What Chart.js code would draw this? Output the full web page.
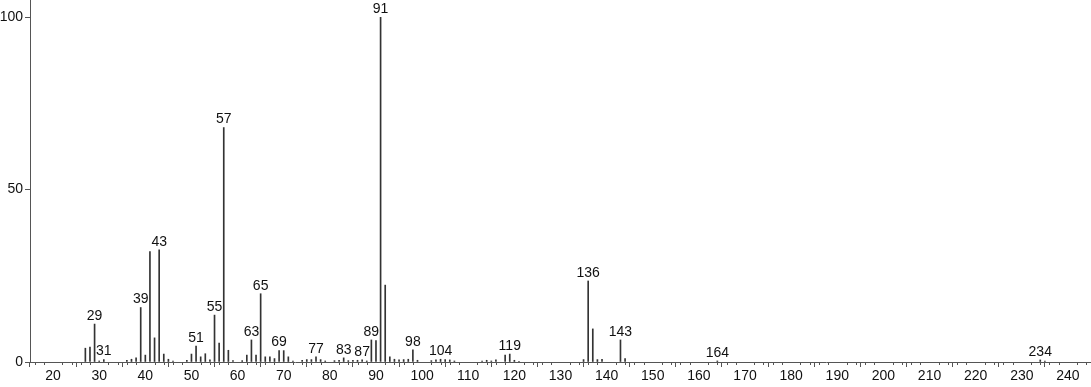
<!DOCTYPE html>
<html lang="en">
<head>
  <meta charset="UTF-8" />
  <title>Mass spectrum</title>
  <script src="https://cdn.jsdelivr.net/npm/chart.js@4"></script>
  <style>
    html, body { margin: 0; padding: 0; background: #fff; }
    .grafico { width: 1091px; height: 387px; }
  </style>
</head>
<body>
  <div class="grafico">
    <canvas id="espectro"></canvas>
  </div>

  <script>
    // m/z values and relative intensities
    const mz = [27, 28, 29, 30, 31, 36, 37, 38, 39, 40, 41, 42, 43, 44, 45, 46, 49, 50, 51, 52,
      53, 54, 55, 56, 57, 58, 59, 61, 62, 63, 64, 65, 66, 67, 68, 69, 70, 71, 72, 74,
      75, 76, 77, 78, 79, 81, 82, 83, 84, 85, 86, 87, 88, 89, 90, 91, 92, 93, 94, 95,
      96, 97, 98, 99, 102, 103, 104, 105, 106, 107, 113, 114, 115, 116, 118, 119, 120, 121, 135, 136,
      137, 138, 139, 143, 144, 164, 234, 235];
    const intensity = [4.0, 4.3, 11.0, 0.3, 0.7, 0.5, 0.8, 1.2, 15.8, 2.0, 32.0, 7.0, 32.5, 2.3, 0.8, 0.3, 0.5, 2.3, 4.6, 1.5,
      2.4, 0.6, 13.6, 5.5, 68.0, 3.4, 0.4, 0.4, 2.0, 6.4, 2.0, 19.8, 1.5, 1.5, 1.0, 3.3, 3.3, 1.5, 0.3, 0.5,
      0.7, 0.7, 1.5, 0.7, 0.3, 0.4, 0.5, 1.2, 0.4, 0.5, 0.5, 0.6, 0.3, 6.4, 6.2, 100, 22.3, 1.5, 0.8, 0.6,
      0.7, 0.8, 3.5, 0.5, 0.4, 0.6, 0.8, 0.7, 0.6, 0.3, 0.3, 0.5, 0.3, 0.6, 2.0, 2.3, 0.5, 0.2, 0.7, 23.5,
      9.6, 0.7, 0.8, 6.4, 1.0, 0.3, 0.6, 0.3];
    // peaks that carry a label
    const labelled = [29, 31, 39, 43, 51, 55, 57, 63, 65, 69, 77, 83, 87, 89, 91, 98, 104, 119, 136, 143, 164, 234];
    const xTicks = [20, 30, 40, 50, 60, 70, 80, 90, 100, 110, 120, 130, 140, 150, 160, 170, 180, 190, 200, 210, 220, 230, 240];
    const yTicks = [0, 50, 100];

    const corEixo = '#555';
    const corTexto = '#111';
    const familia = '"Liberation Sans", Arial, sans-serif';

    // minor ticks + peak labels
    const extras = {
      id: 'extras',
      afterDraw(chart) {
        const c = chart.ctx;
        const x = chart.scales.x, y = chart.scales.y;
        const base = y.getPixelForValue(0);
        c.save();
        c.strokeStyle = corEixo;
        c.lineWidth = 1;
        c.beginPath();
        for (let v = 16; v <= 244; v += 2) {
          if (v % 10 === 0) continue;
          const px = Math.round(x.getPixelForValue(v)) + 0.5;
          c.moveTo(px, base);
          c.lineTo(px, base + 3);
        }
        c.stroke();

        c.fillStyle = corTexto;
        c.font = '14px ' + familia;
        c.textAlign = 'center';
        c.textBaseline = 'bottom';
        labelled.forEach(m => {
          const i = mz.indexOf(m);
          const px = x.getPixelForValue(m);
          const py = y.getPixelForValue(intensity[i]);
          c.fillText(String(m), px, py - 1);
        });
        c.restore();
      }
    };

    new Chart(document.getElementById('espectro'), {
      type: 'bar',
      data: {
        datasets: [{
          data: mz.map((m, i) => ({ x: m, y: intensity[i] })),
          backgroundColor: '#333',
          barThickness: 1,
          borderWidth: 0
        }]
      },
      options: {
        responsive: true,
        maintainAspectRatio: false,
        animation: false,
        layout: { padding: 0 },
        plugins: { legend: { display: false }, tooltip: { enabled: false } },
        scales: {
          x: {
            type: 'linear',
            offset: false,
            min: 15,
            max: 245,
            afterBuildTicks: s => { s.ticks = xTicks.map(v => ({ value: v })); },
            afterFit: s => { s.height = 25; s.paddingLeft = 0; s.paddingRight = 0; },
            grid: { drawOnChartArea: false, drawTicks: true, tickLength: 5, color: corEixo },
            border: { display: true, color: corEixo },
            ticks: { color: corTexto, font: { family: familia, size: 14 }, padding: 1, maxRotation: 0, autoSkip: false }
          },
          y: {
            min: 0,
            max: 105,
            afterBuildTicks: s => { s.ticks = yTicks.map(v => ({ value: v })); },
            afterFit: s => { s.width = 30; s.paddingTop = 0; s.paddingBottom = 0; },
            grid: { drawOnChartArea: false, drawTicks: true, tickLength: 5, color: corEixo },
            border: { display: true, color: corEixo },
            ticks: { color: corTexto, font: { family: familia, size: 14 }, padding: 2 }
          }
        }
      },
      plugins: [extras]
    });
  </script>
</body>
</html>
